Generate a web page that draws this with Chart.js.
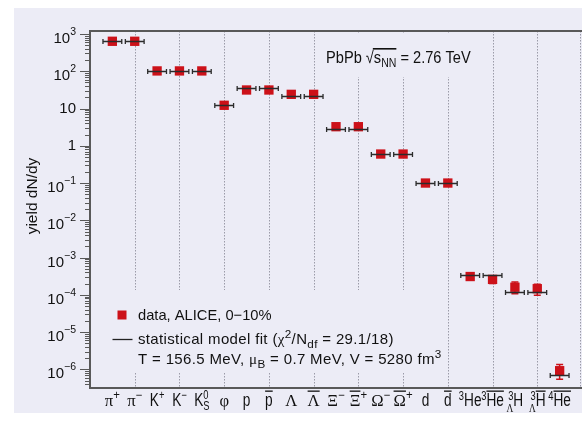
<!DOCTYPE html>
<html lang="en">
<head>
<meta charset="UTF-8">
<title>Hadron yields, PbPb 2.76 TeV</title>
<script src="https://cdn.jsdelivr.net/npm/chart.js"></script>
<style>
  body { margin: 0; background: #fff; }
  #panel { position: absolute; left: 14px; top: 8px; width: 568px; height: 405px; background: #ececf6; }
</style>
</head>
<body>
<div id="panel"><canvas id="yields"></canvas></div>
<script>
// species in column order
var species = ['pi+', 'pi-', 'K+', 'K-', 'K0s', 'phi', 'p', 'pbar', 'Lambda', 'Lambdabar',
  'Xi-', 'Xibar+', 'Omega-', 'Omegabar+', 'd', 'dbar', 'He3', 'He3bar', 'H3L', 'H3Lbar', 'He4bar'];

// measured dN/dy, 0-10% central
var measured = [637, 637, 102, 102, 102, 12.2, 31.4, 31.4, 24, 24,
  3.25, 3.25, 0.6, 0.6, 0.1, 0.1, 3.1e-4, 2.6e-4, 1.6e-4, 1.46e-4, 9.2e-7];
// visible uncertainties (light nuclei only)
var errLow  = [null, null, null, null, null, null, null, null, null, null,
  null, null, null, null, null, null, 2.7e-4, 2.0e-4, 1.07e-4, 0.97e-4, 5.4e-7];
var errHigh = [null, null, null, null, null, null, null, null, null, null,
  null, null, null, null, null, null, 3.6e-4, 3.2e-4, 2.2e-4, 1.92e-4, 1.36e-6];

// statistical model fit
var modelFit = [637, 637, 102, 102, 102, 12.2, 35.5, 35.5, 22, 22,
  2.87, 2.87, 0.6, 0.6, 0.1, 0.1, 3.4e-4, 3.4e-4, 1.17e-4, 1.17e-4, 7.1e-7];

// axis labels: pre = left superscript, presub = left subscript, bar = antiparticle
var tickLabels = [
  {b: 'π', sup: '+'}, {b: 'π', sup: '−'}, {b: 'K', sup: '+'}, {b: 'K', sup: '−'},
  {b: 'K', sup: '0', sub: 'S'}, {b: 'φ'}, {b: 'p'}, {b: 'p', bar: true},
  {b: 'Λ'}, {b: 'Λ', bar: true}, {b: 'Ξ', sup: '−'}, {b: 'Ξ', sup: '+', bar: true},
  {b: 'Ω', sup: '−'}, {b: 'Ω', sup: '+', bar: true}, {b: 'd'}, {b: 'd', bar: true},
  {pre: '3', b: 'He'}, {pre: '3', b: 'He', bar: true},
  {pre: '3', presub: 'Λ', b: 'H'}, {pre: '3', presub: 'Λ', b: 'H', bar: true},
  {pre: '4', b: 'He', bar: true}
];
var decades = [-6, -5, -4, -3, -2, -1, 0, 1, 2, 3];

var panelColor = '#ececf6';
var red = '#cc1119';
var SANS = '"Liberation Sans", Arial, sans-serif';
var SERIF = '"Liberation Serif", serif';
var greek = /[\u0370-\u03ff]/;

// draws a run of text pieces squeezed by sx, returns x before each piece (and the end)
function rich(ctx, x, y, parts, size, sx, sub) {
  var xs = [], lx = 0;
  sub = sub || 0.72;
  ctx.save();
  ctx.translate(x, y);
  ctx.scale(sx, 1);
  parts.forEach(function (p) {
    var s = (p.sup || p.sub) ? size * sub : size;
    ctx.font = s + 'px ' + (p.g ? SERIF : SANS);
    var dy = p.sup ? -size * 0.42 : (p.sub ? size * 0.26 : 0);
    xs.push(x + lx * sx);
    ctx.fillText(p.t, lx, dy);
    lx += ctx.measureText(p.t).width;
  });
  ctx.restore();
  xs.push(x + lx * sx);
  return xs;
}

function drawTick(ctx, cx, y, L) {
  var isGreek = greek.test(L.b);
  var S = isGreek ? 17.5 : 17.5, s = 12, sx = isGreek ? 0.95 : 0.78;
  var bigFont = S + 'px ' + (isGreek ? SERIF : SANS);
  var small = s + 'px ' + SANS;
  var smallG = s + 'px ' + SERIF;
  var w = function (t, f) { ctx.font = f; return t ? ctx.measureText(t).width : 0; };
  var wPre = Math.max(w(L.pre, small), w(L.presub, smallG));
  var wBase = w(L.b, bigFont);
  var wPost = Math.max(w(L.sup, small), w(L.sub, small));
  ctx.save();
  ctx.translate(cx - (wPre + wBase + wPost) * sx / 2, y);
  ctx.scale(sx, 1);
  ctx.textAlign = 'right';
  if (L.pre) { ctx.font = small; ctx.fillText(L.pre, wPre, -6); }
  if (L.presub) { ctx.font = smallG; ctx.fillText(L.presub, wPre, 6); }
  ctx.textAlign = 'left';
  ctx.font = bigFont;
  ctx.fillText(L.b, wPre, 0);
  if (L.bar) ctx.fillRect(wPre, -15.5, wBase, 1.3);
  ctx.font = small;
  if (L.sup) ctx.fillText(L.sup, wPre + wBase, -7);
  if (L.sub) ctx.fillText(L.sub, wPre + wBase, 4);
  ctx.restore();
}

var decor = {
  id: 'decor',
  beforeDatasetsDraw: function (chart) {
    var ctx = chart.ctx, a = chart.chartArea, x = chart.scales.x, y = chart.scales.y;
    ctx.save();
    // dotted guides between particle/antiparticle pairs
    ctx.strokeStyle = '#9b9ba8';
    ctx.lineWidth = 1;
    ctx.setLineDash([1.5, 1.5]);
    for (var i = 1; i <= species.length; i += 2) {
      var px = Math.min(Math.round(x.getPixelForValue(i)), chart.width - 2) + 0.5;
      ctx.beginPath(); ctx.moveTo(px, a.top); ctx.lineTo(px, a.bottom); ctx.stroke();
    }
    ctx.setLineDash([]);
    // text boxes cover the guides
    ctx.fillStyle = panelColor;
    ctx.fillRect(304, 25, 158, 44);
    ctx.fillRect(80, 282, 352, 82);
    // vertical uncertainties
    ctx.strokeStyle = red;
    ctx.lineWidth = 1.5;
    measured.forEach(function (v, i) {
      if (errLow[i] == null) return;
      var px = x.getPixelForValue(i);
      var lo = y.getPixelForValue(errLow[i]), hi = y.getPixelForValue(errHigh[i]);
      ctx.beginPath();
      ctx.moveTo(px, lo); ctx.lineTo(px, hi);
      ctx.moveTo(px - 3.5, lo); ctx.lineTo(px + 3.5, lo);
      ctx.moveTo(px - 3.5, hi); ctx.lineTo(px + 3.5, hi);
      ctx.stroke();
    });
    ctx.restore();
  },
  afterDatasetsDraw: function (chart) {
    var ctx = chart.ctx, x = chart.scales.x, y = chart.scales.y;
    ctx.save();
    ctx.strokeStyle = '#2b2b2b';
    ctx.lineWidth = 1.3;
    modelFit.forEach(function (v, i) {
      var x1 = x.getPixelForValue(i - 0.42), x2 = x.getPixelForValue(i + 0.42);
      var py = Math.round(y.getPixelForValue(v)) + 0.5;
      ctx.beginPath();
      ctx.moveTo(x1, py); ctx.lineTo(x2, py);
      ctx.moveTo(x1, py - 2.5); ctx.lineTo(x1, py + 2.5);
      ctx.moveTo(x2, py - 2.5); ctx.lineTo(x2, py + 2.5);
      ctx.stroke();
    });
    ctx.restore();
  },
  afterDraw: function (chart) {
    var ctx = chart.ctx, a = chart.chartArea, x = chart.scales.x, y = chart.scales.y;
    ctx.save();
    // frame
    ctx.strokeStyle = '#595959';
    ctx.lineWidth = 2;
    ctx.beginPath();
    ctx.moveTo(chart.width, a.top); ctx.lineTo(a.left, a.top);
    ctx.lineTo(a.left, a.bottom); ctx.lineTo(chart.width, a.bottom);
    ctx.stroke();

    // log ticks on the left
    ctx.lineWidth = 1.2;
    ctx.beginPath();
    decades.concat([-7]).forEach(function (e) {
      for (var k = 1; k <= 9; k++) {
        var v = k * Math.pow(10, e);
        if (v < y.min || v > y.max) continue;
        var py = Math.round(y.getPixelForValue(v)) + 0.5;
        ctx.moveTo(a.left - (k === 1 ? 10 : 5), py); ctx.lineTo(a.left, py);
      }
    });
    ctx.stroke();

    // decade labels
    ctx.fillStyle = '#111';
    ctx.textBaseline = 'alphabetic';
    decades.forEach(function (e) {
      var py = y.getPixelForValue(Math.pow(10, e));
      var right = a.left - 14;
      if (e === 0 || e === 1) {
        ctx.font = '15px ' + SANS;
        ctx.textAlign = 'right';
        ctx.fillText(e === 0 ? '1' : '10', right, py + 4.5);
        return;
      }
      var ex = (e < 0 ? '−' : '') + Math.abs(e);
      ctx.textAlign = 'left';
      ctx.font = '10.5px ' + SANS;
      var we = ctx.measureText(ex).width;
      ctx.font = '15px ' + SANS;
      var wb = ctx.measureText('10').width;
      ctx.fillText('10', right - we - wb, py + 9);
      ctx.font = '10.5px ' + SANS;
      ctx.fillText(ex, right - we, py + 1);
    });

    // axis title
    ctx.save();
    ctx.translate(18, 188);
    ctx.rotate(-Math.PI / 2);
    ctx.textAlign = 'center';
    ctx.font = '15.5px ' + SANS;
    ctx.fillText('yield dN/dy', 0, 5);
    ctx.restore();

    // species labels under each column
    tickLabels.forEach(function (L, i) {
      drawTick(ctx, x.getPixelForValue(i), a.bottom + 18, L);
    });

    // collision system
    ctx.textAlign = 'left';
    var xs = rich(ctx, 312, 55, [
      {t: 'PbPb '}, {t: '√'}, {t: 's'}, {t: 'NN', sub: 1}, {t: ' = 2.76 TeV'}
    ], 17, 0.86);
    ctx.fillRect(xs[2] - 1, 40, xs[4] - xs[2] + 1, 1.6);

    // legend
    ctx.fillStyle = red;
    ctx.fillRect(103.5, 302.5, 9, 9);
    ctx.strokeStyle = '#222';
    ctx.lineWidth = 1.3;
    ctx.beginPath(); ctx.moveTo(98.5, 331.5); ctx.lineTo(118.5, 331.5); ctx.stroke();
    ctx.fillStyle = '#111';
    rich(ctx, 124, 312, [{t: 'data, ALICE, 0−10%'}], 15, 0.98);
    ctx.letterSpacing = '0.35px';
    rich(ctx, 124, 336, [
      {t: 'statistical model fit ('}, {t: 'χ', g: 1}, {t: '2', sup: 1}, {t: '/N'},
      {t: 'df', sub: 1}, {t: ' = 29.1/18)'}
    ], 15, 1, 0.78);
    rich(ctx, 124, 356, [
      {t: 'T = 156.5 MeV, '}, {t: 'μ', g: 1}, {t: 'B', sub: 1},
      {t: ' = 0.7 MeV, V = 5280 fm'}, {t: '3', sup: 1}
    ], 15, 1, 0.78);
    ctx.letterSpacing = '0px';
    ctx.restore();
  }
};

new Chart('yields', {
  type: 'scatter',
  data: {
    datasets: [{
      data: measured.map(function (v, i) { return {x: i, y: v}; }),
      pointStyle: 'rect',
      pointRadius: 6.6,
      backgroundColor: red,
      borderColor: red,
      borderWidth: 0
    }]
  },
  options: {
    responsive: true,
    maintainAspectRatio: false,
    animation: false,
    events: [],
    layout: {autoPadding: false, padding: {left: 76, top: 23, right: 0, bottom: 25}},
    plugins: {legend: {display: false}, tooltip: {enabled: false}},
    scales: {
      x: {type: 'linear', min: -1, max: species.length, display: false},
      y: {type: 'logarithmic', min: Math.pow(10, -6.5), max: Math.pow(10, 3.08), display: false}
    }
  },
  plugins: [decor]
});
</script>
</body>
</html>
